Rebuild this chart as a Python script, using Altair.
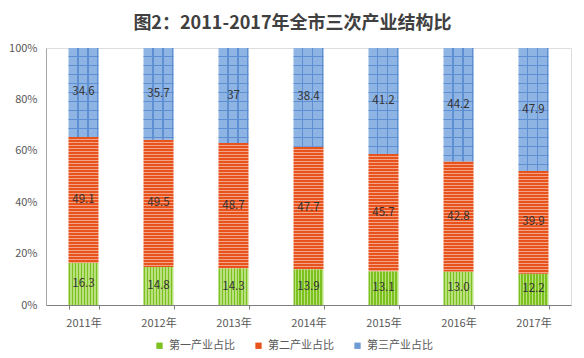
import altair as alt
import pandas as pd

years = ["2011年", "2012年", "2013年", "2014年", "2015年", "2016年", "2017年"]
series_names = ["第一产业占比", "第二产业占比", "第三产业占比"]
primary = [16.3, 14.8, 14.3, 13.9, 13.1, 13.0, 12.2]
secondary = [49.1, 49.5, 48.7, 47.7, 45.7, 42.8, 39.9]
tertiary = [34.6, 35.7, 37.0, 38.4, 41.2, 44.2, 47.9]
primary_labels = ["16.3", "14.8", "14.3", "13.9", "13.1", "13.0", "12.2"]
secondary_labels = ["49.1", "49.5", "48.7", "47.7", "45.7", "42.8", "39.9"]
tertiary_labels = ["34.6", "35.7", "37", "38.4", "41.2", "44.2", "47.9"]
y_ticks = [0, 20, 40, 60, 80, 100]
title_text = "图2：2011-2017年全市三次产业结构比"

rows = []
for k, (vals, labs) in enumerate([(primary, primary_labels),
                                  (secondary, secondary_labels),
                                  (tertiary, tertiary_labels)]):
    for yr, v, lb in zip(years, vals, labs):
        rows.append({"year": yr, "series": series_names[k], "order": k,
                     "value": v, "label": lb})
df = pd.DataFrame(rows)

FONT = "Noto Sans CJK SC"
GREEN, GREEN_L = "#7cc11e", "#b9e07f"
ORANGE, ORANGE_L = "#e8531d", "#f3a487"
BLUE, BLUE_D = "#8eb4e3", "#5e8fd2"
PLOT_W, PLOT_H = 525, 257
BAR_W = 30


def stripes(c_a, c_b, length_px, pitch_px, frac_a, vertical_lines):
    """Pattern of stripes with a fixed pixel pitch, as a linear gradient."""
    p = pitch_px / length_px
    stops = []
    k = 0
    while k * p < 1:
        s = k * p
        m = min(1.0, s + frac_a * p)
        e = min(1.0, s + p)
        stops += [{"color": c_a, "offset": s}, {"color": c_a, "offset": m},
                  {"color": c_b, "offset": m}, {"color": c_b, "offset": e}]
        k += 1
    g = {"gradient": "linear", "stops": stops}
    if vertical_lines:
        g.update(x1=0, y1=0, x2=1, y2=0)
    else:
        g.update(x1=0, y1=0, x2=0, y2=1)
    return g


base = alt.Chart(df).transform_stack(
    stack="value", as_=["y0", "y1"], groupby=["year"],
    sort=[alt.SortField("order", order="ascending")]
).transform_calculate(mid="(datum.y0 + datum.y1) / 2")

x_enc = alt.X("year:N", sort=years,
              scale=alt.Scale(paddingInner=0.6, paddingOuter=0.3),
              axis=alt.Axis(title=None, labelAngle=0, tickBand="extent",
                            domainColor="#7f7f7f", tickColor="#7f7f7f",
                            tickSize=4, labelColor="#595959", labelFontSize=11,
                            labelFont=FONT, labelPadding=8))
y_scale = alt.Scale(domain=[0, 100])
y_axis = alt.Axis(title=None, values=y_ticks, labelExpr="datum.value + '%'",
                  grid=False, domainColor="#a6a6a6", ticks=False,
                  labelColor="#595959", labelFontSize=11, labelFont=FONT,
                  labelPadding=9)


def seg(filt, fill):
    return base.transform_filter(filt).mark_bar(color=fill).encode(
        x=x_enc, y=alt.Y("y0:Q", scale=y_scale, axis=y_axis), y2="y1:Q")


layers = [seg("datum.order == 0", stripes(GREEN, GREEN_L, BAR_W, 3, 0.6, True))]
for yr, v in zip(years, secondary):
    layers.append(seg(f"datum.order == 1 && datum.year == '{yr}'",
                      stripes(ORANGE, ORANGE_L, v / 100 * PLOT_H, 3, 0.64, False)))
layers.append(seg("datum.order == 2", stripes(BLUE, BLUE_D, BAR_W, 10, 0.88, True)))
for yr, v in zip(years, tertiary):
    layers.append(seg(f"datum.order == 2 && datum.year == '{yr}'",
                      stripes("rgba(94,143,210,0)", BLUE_D, v / 100 * PLOT_H,
                              9, 0.88, False)))

labels = base.mark_text(font=FONT, fontSize=11.5, color="#333333").encode(
    x=x_enc, y=alt.Y("mid:Q", scale=y_scale, axis=y_axis), text="label:N")

legend_layer = base.mark_square(opacity=0, size=1).encode(
    x=x_enc, y=alt.Y("y1:Q", scale=y_scale, axis=y_axis),
    color=alt.Color("series:N", sort=series_names,
                    scale=alt.Scale(domain=series_names,
                                    range=[GREEN, ORANGE, "#6f9bd6"]),
                    legend=alt.Legend(title=None, orient="none", direction="horizontal",
                                      legendX=108, legendY=292, symbolOpacity=1,
                                      symbolType="square", symbolSize=40,
                                      labelFont=FONT, labelFontSize=11,
                                      labelColor="#595959", columnPadding=18,
                                      symbolStrokeWidth=0)))

chart = alt.layer(*layers, labels, legend_layer).properties(
    width=PLOT_W, height=PLOT_H,
    title=alt.TitleParams(title_text, font=FONT, fontSize=18, fontWeight="bold",
                          color="#404040", anchor="middle", dx=-16, offset=9),
    autosize=alt.AutoSizeParams(type="none"),
    padding={"left": 38, "top": 40, "right": 5, "bottom": 50},
).configure_view(stroke=None).configure(background="white")

chart.save("out.html", embed_options={"renderer": "svg", "actions": False})
